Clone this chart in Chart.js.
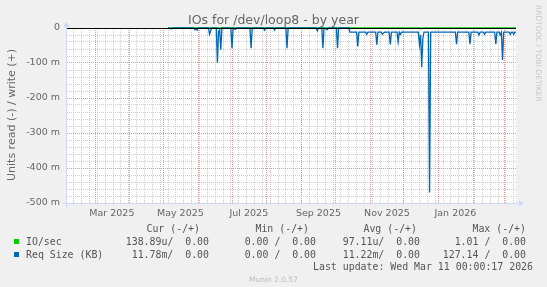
<!DOCTYPE html>
<html>
<head>
<meta charset="utf-8">
<script src="https://cdn.jsdelivr.net/npm/chart.js@4.4.1/dist/chart.umd.min.js"></script>
<style>
    html, body { margin: 0; padding: 0; background: #f0f0f0; }
    #wrap { position: relative; width: 547px; height: 287px; overflow: hidden; font-family: "DejaVu Sans", sans-serif; color: #666; }
    #wrap canvas { position: absolute; left: 0; top: 0; }
    .t { position: absolute; white-space: pre; }
    .mono { font-family: "DejaVu Sans Mono", monospace; font-size: 9.9px; line-height: 12px; color: #555; }
    .box { position: absolute; width: 5px; height: 5px; }
</style>
</head>
<body>
<div id="wrap">
    <canvas id="myChart" width="547" height="287"></canvas>
    <div class="t" style="left:0;width:547px;top:12px;text-align:center;font-size:12.5px;line-height:15px;">IOs for /dev/loop8 - by year</div>
    <div class="t" style="left:5px;top:15px;height:200px;width:13px;text-align:center;font-size:11px;line-height:13px;writing-mode:vertical-rl;transform:rotate(180deg);">Units read (-) / write (+)</div>
    <div class="t" style="left:534px;top:5px;font-size:7.5px;line-height:9px;color:#c8c8c8;writing-mode:vertical-rl;">RRDTOOL / TOBI OETIKER</div>
    <div id="legend"></div>
    <div class="t" style="left:0;width:547px;top:275px;text-align:center;font-size:7.5px;line-height:9px;color:#bbb;">Munin 2.0.57</div>
</div>
<script>
// x values are days since Feb 4 2025 (graph covers 400 days up to Mar 11 2026)
const monthStarts = [25, 56, 86, 117, 147, 178, 209, 239, 270, 300, 331, 362, 390];
const xLabelDays = [40, 101, 162, 224, 285, 346];
const xLabels = ['Mar 2025', 'May 2025', 'Jul 2025', 'Sep 2025', 'Nov 2025', 'Jan 2026'];

// IO/sec (read side, plotted negative)
const ioDays = [90, 315, 316, 317, 400];
const ioValues = [0, 0, -0.002, 0, 0];

// Req Size (KB), read side, in milli units (plotted negative)
const reqDays = [
    90, 93, 94, 113, 114, 115, 116, 117, 126, 127, 128, 129,
    133, 134, 135, 136, 137, 138, 146, 147, 148, 150, 151,
    163, 164, 165, 175, 176, 177, 184, 185, 186, 195, 196, 197,
    222, 223, 224, 227, 228, 229, 232, 233, 240, 241, 242,
    251, 252, 258, 259, 260, 266, 267, 268, 275, 276, 277,
    280, 281, 282, 283, 287, 288, 289, 294, 295, 296, 297, 298,
    313, 314, 315, 316, 317, 318, 322, 323, 324,
    346, 347, 348, 358, 359, 360, 366, 367, 368, 371, 372, 373,
    381, 382, 383, 385, 386, 387, 388, 389, 394, 395, 396, 397, 398, 399, 400
];
const reqValues = [
    0, -2, 0, 0, -5, -3, -6, 0, 0, -18, -8, 0,
    0, -99, -10, -5, -62, 0, 0, -58, 0, -4, 0,
    0, -58, 0, 0, -6, 0, 0, -6, 0, 0, -58, 0,
    0, -8, 0, 0, -58, 0, -5, 0, 0, -58, 0,
    0, -12, -12, -53, -12, -12, -18, -12, -12, -48, -12,
    -12, -18, -14, -12, -12, -47, -12, -12, -39, -12, -18, -12,
    -12, -48, -20, -112, -30, -12, -12, -470, -12,
    -12, -46, -12, -12, -46, -12, -12, -20, -12, -12, -18, -12,
    -12, -46, -12, -12, -20, -12, -91, -12, -12, -18, -12, -12, -18, -12, -12
];

// legend table
const seriesNames = ['IO/sec', 'Req Size (KB)'];
const seriesColors = ['#00cc00', '#0066b3'];
const curText = ['138.89u/  0.00', '11.78m/  0.00'];
const minText = ['0.00 /  0.00', '0.00 /  0.00'];
const avgText = ['97.11u/  0.00', '11.22m/  0.00'];
const maxText = ['1.01 /  0.00', '127.14 /  0.00'];
const headers = ['Cur (-/+)', 'Min (-/+)', 'Avg (-/+)', 'Max (-/+)'];
const lastUpdate = 'Last update: Wed Mar 11 00:00:17 2026';

function addText(txt, top, opts) {
    const d = document.createElement('div');
    d.className = 't mono';
    d.textContent = txt;
    d.style.top = top + 'px';
    if (opts.right !== undefined) d.style.right = (547 - opts.right) + 'px';
    else d.style.left = opts.left + 'px';
    document.getElementById('legend').appendChild(d);
}
const colRight = [209, 316, 420, 526];
const headRight = [200, 309, 417, 526];
headers.forEach((h, i) => addText(h, 223, {right: headRight[i]}));
seriesNames.forEach((name, r) => {
    const top = 235.6 + r * 12.9;
    const b = document.createElement('div');
    b.className = 'box';
    b.style.left = '14px';
    b.style.top = (239 + r * 13) + 'px';
    b.style.background = seriesColors[r];
    document.getElementById('legend').appendChild(b);
    addText(name, top, {left: 26});
    [curText, minText, avgText, maxText].forEach((col, c) => addText(col[r], top, {right: colRight[c]}));
});
addText(lastUpdate, 261.4, {right: 533});

const mgrid = 'rgba(222, 79, 79, 0.6)';
const grid = 'rgba(191, 191, 191, 0.75)';

const muninPlugin = {
    id: 'munin',
    beforeDraw(chart) {
        const ctx = chart.ctx, a = chart.chartArea;
        ctx.save();
        ctx.fillStyle = '#f0f0f0';
        ctx.fillRect(0, 0, chart.width, chart.height);
        ctx.fillStyle = '#ffffff';
        ctx.fillRect(a.left, a.top, a.right - a.left, a.bottom - a.top);
        ctx.restore();
    },
    afterDatasetsDraw(chart) {
        const ctx = chart.ctx, a = chart.chartArea;
        const y0 = Math.round(chart.scales.y.getPixelForValue(0)) + 0.5;
        ctx.save();
        ctx.lineWidth = 1;
        ctx.strokeStyle = '#000000';
        ctx.beginPath();
        ctx.moveTo(a.left, y0);
        ctx.lineTo(a.right, y0);
        ctx.stroke();
        // axes with arrows
        const ax = a.left - 0.5, ay = a.bottom + 0.5;
        ctx.strokeStyle = '#cfd6f8';
        ctx.fillStyle = '#cfd6f8';
        ctx.beginPath();
        ctx.moveTo(a.left - 4, ay);
        ctx.lineTo(a.right + 4, ay);
        ctx.moveTo(ax, a.bottom + 4);
        ctx.lineTo(ax, a.top - 2);
        ctx.stroke();
        ctx.beginPath();
        ctx.moveTo(a.right + 3, ay - 3);
        ctx.lineTo(a.right + 8, ay);
        ctx.lineTo(a.right + 3, ay + 3);
        ctx.closePath();
        ctx.fill();
        ctx.beginPath();
        ctx.moveTo(ax - 3, a.top - 1);
        ctx.lineTo(ax, a.top - 6);
        ctx.lineTo(ax + 3, a.top - 1);
        ctx.closePath();
        ctx.fill();
        ctx.restore();
    }
};

const tickFont = {family: 'DejaVu Sans', size: 9.5};

const data = {
    datasets: [{
        label: 'Req Size (KB)',
        data: reqDays.map((d, i) => ({x: d, y: reqValues[i] / 1000})),
        borderColor: '#0066b3',
        borderWidth: 1.3,
        clip: 4
    }, {
        label: 'IO/sec',
        data: ioDays.map((d, i) => ({x: d, y: ioValues[i]})),
        borderColor: '#00cc00',
        borderWidth: 1.3,
        clip: 4
    }]
};

const config = {
    type: 'line',
    data: data,
    plugins: [muninPlugin],
    options: {
        responsive: false,
        animation: false,
        events: [],
        layout: {padding: {left: 0, top: 28, right: 31, bottom: 69}},
        elements: {point: {radius: 0}, line: {tension: 0}},
        plugins: {legend: {display: false}, tooltip: {enabled: false}},
        scales: {
            x: {
                type: 'linear',
                min: 0,
                max: 400,
                afterFit(s) { s.height = 15; },
                afterBuildTicks(s) {
                    const t = [];
                    for (let d = 6; d <= 400; d += 7) t.push({value: d, kind: 'week'});
                    monthStarts.forEach(d => t.push({value: d, kind: 'month'}));
                    xLabelDays.forEach((d, i) => t.push({value: d, kind: 'label', text: xLabels[i]}));
                    t.sort((p, q) => p.value - q.value);
                    s.ticks = t;
                },
                ticks: {
                    autoSkip: false,
                    maxRotation: 0,
                    padding: 5,
                    color: '#666',
                    font: tickFont,
                    callback: (v, i, ticks) => ticks[i].text || ''
                },
                grid: {
                    drawTicks: false,
                    lineWidth: 1,
                    color: c => {
                        const k = c.tick && c.tick.kind;
                        if (k === 'month') return mgrid;
                        if (k === 'week') return grid;
                        return 'rgba(0,0,0,0)';
                    }
                },
                border: {display: false, dash: [1, 1]}
            },
            y: {
                min: -0.5,
                max: 0,
                afterFit(s) { s.width = 67; },
                afterBuildTicks(s) {
                    const t = [];
                    for (let m = -500; m <= 0; m += 20) t.push({value: m / 1000});
                    s.ticks = t;
                },
                ticks: {
                    autoSkip: false,
                    padding: 7,
                    color: '#666',
                    font: tickFont,
                    callback: v => {
                        const m = Math.round(v * 1000);
                        if (m % 100 !== 0) return '';
                        return m === 0 ? '0' : m + ' m';
                    }
                },
                grid: {
                    drawTicks: false,
                    lineWidth: 1,
                    color: c => {
                        const m = Math.round(c.tick.value * 1000);
                        return m % 100 === 0 ? mgrid : grid;
                    }
                },
                border: {display: false, dash: [1, 1]}
            }
        }
    }
};

const myChart = new Chart(document.getElementById('myChart'), config);
</script>
</body>
</html>
